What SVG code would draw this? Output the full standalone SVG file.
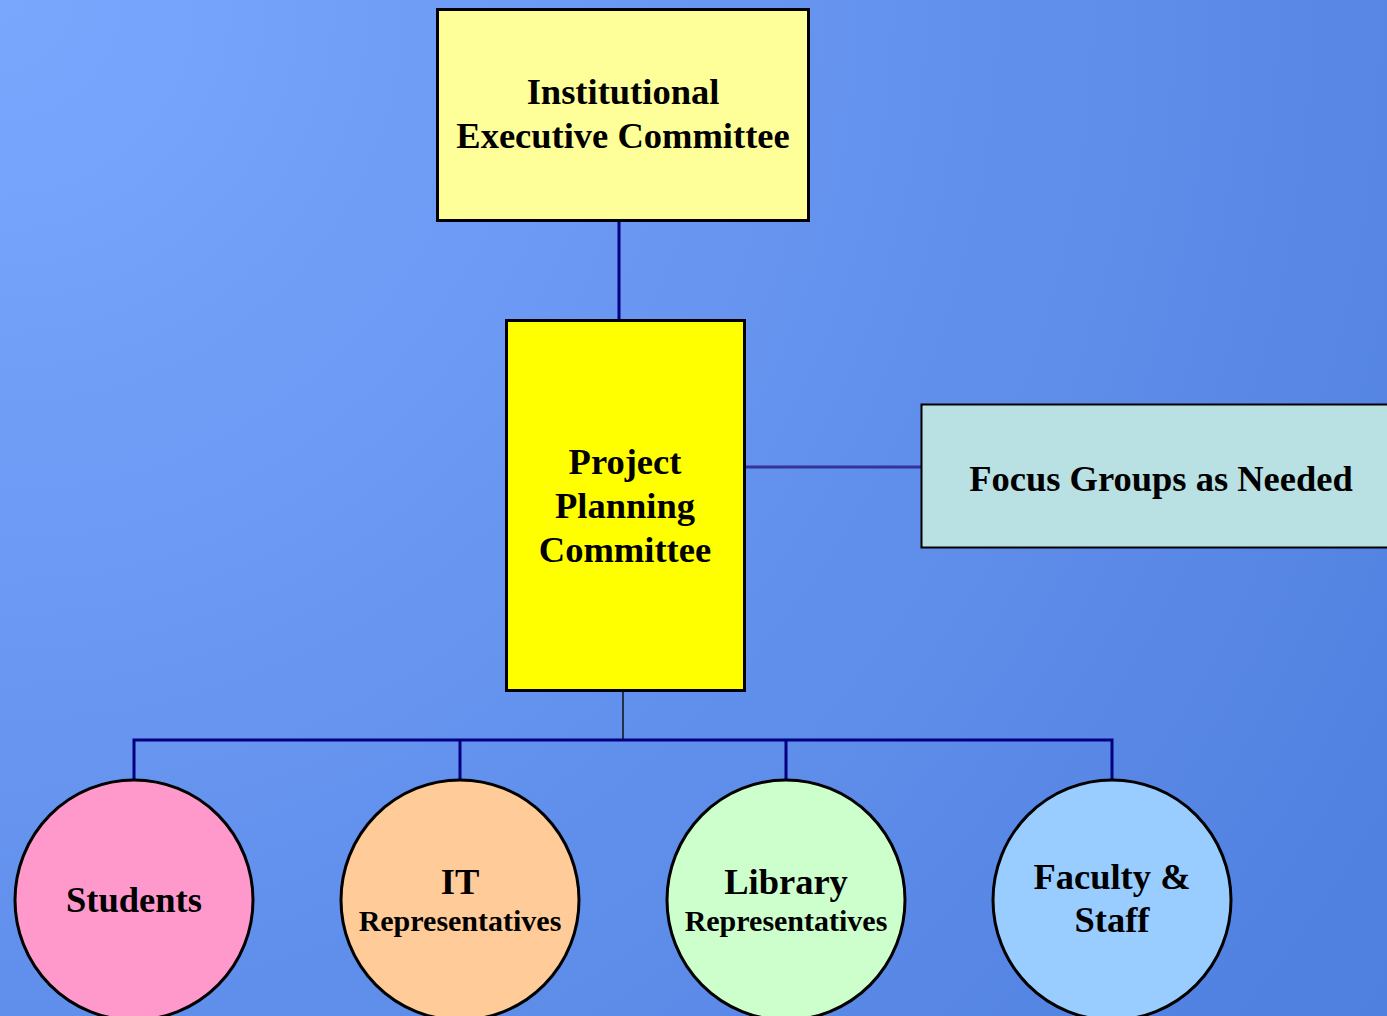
<svg xmlns="http://www.w3.org/2000/svg" width="1387" height="1016" viewBox="0 0 1387 1016">
<defs>
<radialGradient id="bg" cx="0" cy="0" r="1700" gradientUnits="userSpaceOnUse">
<stop offset="0" stop-color="#7aa7fe"/>
<stop offset="1" stop-color="#4f7fdf"/>
</radialGradient>
</defs>
<style>
.box{stroke:#000;stroke-width:3}
.t{font-family:"Liberation Serif","Times New Roman",serif;font-weight:bold;fill:#000;text-anchor:middle;font-size:36.5px}
.s{font-size:30px}
.conn{stroke:#000080;stroke-width:3;fill:none}
</style>
<rect x="0" y="0" width="1387" height="1016" fill="url(#bg)"/>
<g id="connectors">
<line class="conn" x1="619" y1="221" x2="619" y2="320"/>
<line x1="746" y1="467" x2="921" y2="467" stroke="#333399" stroke-width="3"/>
<line x1="623" y1="691" x2="623" y2="740" stroke="#111" stroke-width="1.5"/>
<polyline class="conn" points="134,780 134,740 1112,740 1112,780"/>
<line class="conn" x1="460" y1="740" x2="460" y2="780"/>
<line class="conn" x1="786" y1="740" x2="786" y2="780"/>
</g>
<g id="institutional">
<rect class="box" x="437.5" y="9.5" width="371" height="211" fill="#ffff99"/>
<text class="t" x="623" y="104">Institutional</text>
<text class="t" x="623" y="148">Executive Committee</text>
</g>
<g id="project">
<rect class="box" x="506.5" y="320.5" width="238" height="370" fill="#ffff00"/>
<text class="t" x="625" y="474">Project</text>
<text class="t" x="625" y="518">Planning</text>
<text class="t" x="625" y="562">Committee</text>
</g>
<g id="focus">
<rect x="921.5" y="404.5" width="470" height="143" fill="#b9e0e3" stroke="#000" stroke-width="2"/>
<text class="t" x="1161" y="491">Focus Groups as Needed</text>
</g>
<g id="students">
<ellipse class="box" cx="134" cy="900" rx="119" ry="120" fill="#ff99cc"/>
<text class="t" x="134" y="912">Students</text>
</g>
<g id="it">
<ellipse class="box" cx="460" cy="900" rx="119" ry="120" fill="#ffcc99"/>
<text class="t" x="460" y="894">IT</text>
<text class="t s" x="460" y="931">Representatives</text>
</g>
<g id="library">
<ellipse class="box" cx="786" cy="900" rx="119" ry="120" fill="#ccffcc"/>
<text class="t" x="786" y="894">Library</text>
<text class="t s" x="786" y="931">Representatives</text>
</g>
<g id="faculty">
<ellipse class="box" cx="1112" cy="900" rx="119" ry="120" fill="#99ccff"/>
<text class="t" x="1112" y="889">Faculty &amp;</text>
<text class="t" x="1112" y="932">Staff</text>
</g>
</svg>
